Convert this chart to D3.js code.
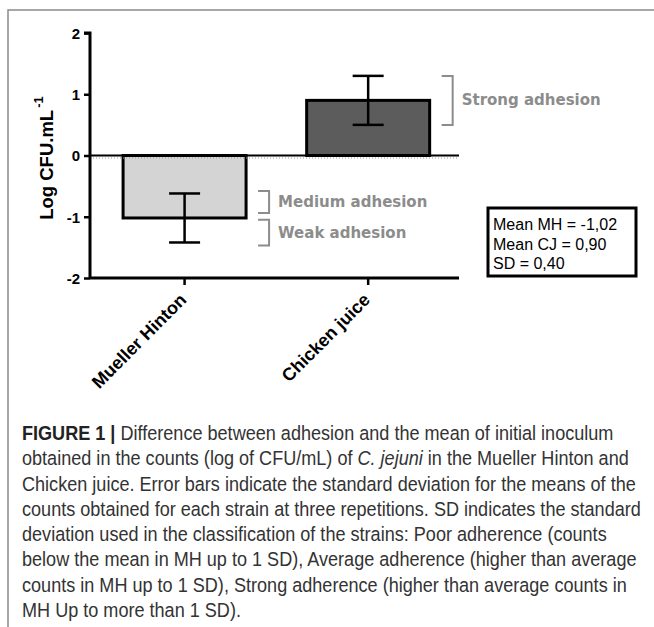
<!DOCTYPE html>
<html>
<head>
<meta charset="utf-8">
<script src="https://cdn.jsdelivr.net/npm/d3@7"></script>
<style>
  body { margin: 0; background: #fff; }
</style>
</head>
<body>
<div id="d3-container"></div>
<script>
//the two media and the mean log difference
var media = ['Mueller Hinton', 'Chicken juice'];
var means = [-1.02, 0.90];
var sds = [0.40, 0.40];
var yTicks = [-2, -1, 0, 1, 2];

//adhesion classes drawn as brackets next to the bars
var classLabels = ['Strong adhesion', 'Medium adhesion', 'Weak adhesion'];
var classTop = [1.30, -0.58, -1.05];
var classBottom = [0.50, -0.94, -1.47];
var classBar = [1, 0, 0];

//text of the little stats box
var statLines = ['Mean MH = -1,02', 'Mean CJ = 0,90', 'SD = 0,40'];

//caption lines, as broken in the figure
var captionLines = [
  [['FIGURE 1 | ', 'b'], ['Difference between adhesion and the mean of initial inoculum', '']],
  [['obtained in the counts (log of CFU/mL) of ', ''], ['C. jejuni', 'i'], [' in the Mueller Hinton and', '']],
  [['Chicken juice. Error bars indicate the standard deviation for the means of the', '']],
  [['counts obtained for each strain at three repetitions. SD indicates the standard', '']],
  [['deviation used in the classification of the strains: Poor adherence (counts', '']],
  [['below the mean in MH up to 1 SD), Average adherence (higher than average', '']],
  [['counts in MH up to 1 SD), Strong adherence (higher than average counts in', '']],
  [['MH Up to more than 1 SD).', '']]
];

var width = 654;
var height = 627;
var margin = { top: 33, bottom: 349, left: 90, right: 195 };

var svg = d3.select('#d3-container')
  .append('svg')
  .attr('width', width)
  .attr('height', height);

//grey frame round the figure (top and left only, like the page crop)
svg.append('path')
  .attr('d', 'M8,627 L8,10 L654,10')
  .attr('fill', 'none')
  .attr('stroke', '#8a8a8a')
  .attr('stroke-width', 1.5);

var x = d3.scaleBand()
  .domain(d3.range(media.length))
  .range([margin.left, width - margin.right])
  .paddingInner(0.33)
  .paddingOuter(0.17)
  .align(0.53);

var y = d3.scaleLinear()
  .domain([-2, 2])
  .range([height - margin.bottom, margin.top]);

//bars
svg.append('g')
  .selectAll('rect')
  .data(means)
  .join('rect')
  .attr('x', (d, i) => x(i))
  .attr('y', d => y(Math.max(0, d)))
  .attr('width', x.bandwidth())
  .attr('height', d => Math.abs(y(d) - y(0)))
  .attr('fill', (d, i) => i === 0 ? '#d4d4d4' : '#5c5c5c')
  .attr('stroke', '#000')
  .attr('stroke-width', 3);

//zero line across the plot, with the faint dotted line under it
svg.append('line')
  .attr('x1', x.range()[0])
  .attr('x2', x.range()[1])
  .attr('y1', y(0) + 2.5)
  .attr('y2', y(0) + 2.5)
  .attr('stroke', '#999')
  .attr('stroke-width', 1)
  .attr('stroke-dasharray', '1,2');

svg.append('line')
  .attr('x1', x.range()[0])
  .attr('x2', x.range()[1])
  .attr('y1', y(0))
  .attr('y2', y(0))
  .attr('stroke', '#000')
  .attr('stroke-width', 2);

//error bars, mean +/- sd
var err = svg.append('g')
  .attr('stroke', '#000')
  .attr('stroke-width', 2.5)
  .selectAll('g')
  .data(means)
  .join('g');

err.append('line')
  .attr('x1', (d, i) => x(i) + x.bandwidth() / 2)
  .attr('x2', (d, i) => x(i) + x.bandwidth() / 2)
  .attr('y1', (d, i) => y(d + sds[i]))
  .attr('y2', (d, i) => y(d - sds[i]));

[1, -1].forEach(function (s) {
  err.append('line')
    .attr('x1', (d, i) => x(i) + x.bandwidth() / 2 - 15.5)
    .attr('x2', (d, i) => x(i) + x.bandwidth() / 2 + 15.5)
    .attr('y1', (d, i) => y(d + s * sds[i]))
    .attr('y2', (d, i) => y(d + s * sds[i]));
});

//axes
function yAxis(g) {
  g.attr('transform', `translate(${margin.left}, 0)`)
    .call(d3.axisLeft(y).tickValues(yTicks).tickSize(6).tickPadding(4).tickFormat(d => String(d)))
    .attr('font-family', '"Liberation Sans", Arial, sans-serif')
    .attr('font-size', '15px')
    .attr('font-weight', 'bold');
  g.select('.domain').attr('stroke-width', 3).attr('d', `M-6,${y(2)}H0V${y(-2)}`);
  g.selectAll('.tick line').attr('stroke-width', 2.5);
  g.selectAll('.tick text').attr('fill', '#000').attr('dy', '0.36em');
}

function xAxis(g) {
  g.attr('transform', `translate(0, ${y(-2)})`)
    .call(d3.axisBottom(x).tickFormat(i => media[i]).tickSize(7).tickSizeOuter(0))
    .attr('font-family', '"Liberation Sans", Arial, sans-serif')
    .attr('font-size', '18px')
    .attr('font-weight', 'bold');
  g.select('.domain').attr('stroke-width', 3).attr('d', `M${x.range()[0]},0H${x.range()[1]}`);
  g.selectAll('.tick line').attr('stroke-width', 2.5);
  g.selectAll('.tick text')
    .attr('fill', '#000')
    .attr('text-anchor', 'end')
    .attr('dy', null)
    .attr('y', 0)
    .attr('transform', 'translate(3, 23) rotate(-45)');
}

svg.append('g').call(xAxis);
svg.append('g').call(yAxis);

//y axis title with superscript
svg.append('text')
  .attr('transform', `translate(53, ${y(-1.05)}) rotate(-90)`)
  .attr('font-family', '"Liberation Sans", Arial, sans-serif')
  .attr('font-size', '18.5px')
  .attr('font-weight', 'bold')
  .text('Log CFU.mL')
  .append('tspan')
  .attr('font-size', '13px')
  .attr('dx', '2')
  .attr('dy', '-0.75em')
  .text('-1');

//adhesion brackets
var cls = svg.append('g')
  .selectAll('g')
  .data(classLabels)
  .join('g');

cls.append('path')
  .attr('d', function (d, i) {
    var bx = x(classBar[i]) + x.bandwidth() + 12;
    return `M${bx},${y(classTop[i])}H${bx + 11}V${y(classBottom[i])}H${bx}`;
  })
  .attr('fill', 'none')
  .attr('stroke', '#8c8c8c')
  .attr('stroke-width', 2);

cls.append('text')
  .attr('x', (d, i) => x(classBar[i]) + x.bandwidth() + 32)
  .attr('y', (d, i) => (y(classTop[i]) + y(classBottom[i])) / 2 + 5)
  .attr('font-family', '"DejaVu Sans", Verdana, sans-serif')
  .attr('font-size', '15px')
  .attr('font-weight', 'bold')
  .attr('fill', '#8c8c8c')
  .text(d => d);

//stats box
svg.append('rect')
  .attr('x', 488)
  .attr('y', 208)
  .attr('width', 148)
  .attr('height', 68)
  .attr('fill', '#fff')
  .attr('stroke', '#000')
  .attr('stroke-width', 3);

svg.append('g')
  .selectAll('text')
  .data(statLines)
  .join('text')
  .attr('x', 493)
  .attr('y', (d, i) => 230 + i * 19.5)
  .attr('font-family', '"Liberation Sans", Arial, sans-serif')
  .attr('font-size', '16px')
  .attr('fill', '#000')
  .text(d => d);

//caption under the figure; the figure's font is condensed, so the whole
//block is squeezed sideways until the widest line is as wide as in the figure
var cap = svg.append('g')
  .attr('font-family', '"Liberation Sans", Arial, sans-serif')
  .attr('font-size', '19.5px')
  .attr('fill', '#333');

var capText = cap.selectAll('text')
  .data(captionLines)
  .join('text')
  .attr('x', 0)
  .attr('y', (d, i) => 440 + i * 25.3);

capText.selectAll('tspan')
  .data(d => d)
  .join('tspan')
  .attr('font-weight', d => d[1] === 'b' ? 'bold' : null)
  .attr('font-style', d => d[1] === 'i' ? 'italic' : null)
  .attr('fill', d => d[1] === 'b' ? '#222' : null)
  .text(d => d[0]);

var widest = d3.max(capText.nodes(), n => n.getComputedTextLength());
var sx = 619 / widest;
cap.attr('transform', `translate(22, 0) scale(${sx}, 1)`);

svg.node();
</script>
</body>
</html>
